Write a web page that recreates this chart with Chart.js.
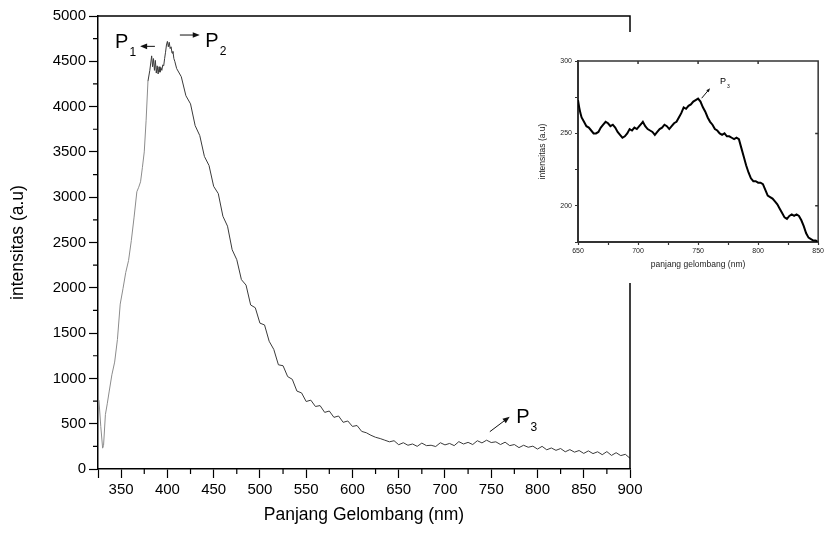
<!DOCTYPE html>
<html>
<head>
<meta charset="utf-8">
<script src="https://cdn.jsdelivr.net/npm/chart.js@4.4.1/dist/chart.umd.min.js"></script>
<style>
  body { margin: 0; background: #fff; }
  #wrap { position: relative; width: 826px; height: 537px; }
  #mainChart { position: absolute; left: 0; top: 0; }
  #insetChart { position: absolute; left: 535px; top: 32px; background: #fff; }
</style>
</head>
<body>
<div id="wrap">
  <canvas id="mainChart" width="826" height="537"></canvas>
  <canvas id="insetChart" width="291" height="251"></canvas>
</div>
<script>
// spektrum utama (nm, a.u)
const wavelength = [
  326, 328, 330, 331, 333, 335, 337, 340, 343, 346, 349, 352, 355, 358, 361, 364, 367, 369, 371, 373,
  375, 377, 379, 381, 383, 384, 385, 386, 387, 388, 389, 390, 391, 392, 393, 394, 395, 396, 397, 398,
  399, 400, 401, 402, 403, 404, 405, 406, 407, 408,
  410, 415, 420, 425, 430, 435, 440, 445, 450, 455, 460, 465, 470, 475, 480, 485, 490, 495, 500, 505,
  510, 515, 520, 525, 530, 535, 540, 545, 550, 555, 560, 565, 570, 575, 580, 585, 590, 595, 600, 605,
  610, 615, 620, 625, 630, 635, 640, 645, 650, 655, 660, 665, 670, 675, 680, 685, 690, 695, 700, 705,
  710, 715, 720, 725, 730, 735, 740, 745, 750, 755, 760, 765, 770, 775, 780, 785, 790, 795, 800, 805,
  810, 815, 820, 825, 830, 835, 840, 845, 850, 855, 860, 865, 870, 875, 880, 885, 890, 895, 900
];
const intensity = [
  760, 470, 230, 260, 600, 720, 850, 1040, 1180, 1430, 1820, 1990, 2170, 2300, 2520, 2780, 3060, 3110, 3170, 3330,
  3500, 3850, 4280, 4400, 4560, 4440, 4530, 4400, 4510, 4370, 4450, 4360, 4440, 4380, 4430, 4400, 4460, 4450, 4530, 4600,
  4680, 4720, 4660, 4710, 4640, 4660, 4590, 4610, 4530, 4500,
  4420, 4330, 4120, 4030, 3790, 3680, 3450, 3350, 3120, 3040, 2790, 2680, 2420, 2310, 2090, 2030, 1810, 1780, 1610, 1590,
  1410, 1320, 1150, 1140, 1020, 990, 860, 840, 745, 760, 690, 700, 625, 640, 570, 585, 515, 530, 470, 480,
  415, 400, 372, 350, 336, 318, 300, 312, 268, 290, 262, 276, 250, 286, 258, 262, 248, 290, 266, 282,
  258, 302, 276, 294, 270, 312, 288, 318, 292, 300, 270, 296, 258, 270, 236, 262, 240, 252, 220, 250,
  212, 232, 206, 226, 190, 214, 186, 204, 172, 200, 170, 190, 158, 192, 150, 180, 148, 162, 118
];

// inset 650-850 nm
const insetWavelength = [
  650, 651, 652, 653, 655, 657, 659, 661, 663, 665, 667, 669, 671, 673, 675, 677, 679, 681, 683, 685,
  687, 689, 691, 693, 695, 697, 699, 701, 703, 704, 706, 708, 710, 712, 714, 716, 718, 720, 722, 724,
  726, 728, 730, 732, 734, 736, 738, 740, 742, 744, 746, 748, 750, 752, 754, 756, 758, 760, 762, 764,
  766, 768, 770, 772, 774, 776, 778, 780, 782, 784, 786, 788, 790, 792, 794, 796, 798, 800, 802, 804,
  806, 808, 810, 812, 814, 816, 818, 820, 822, 824, 826, 828, 830, 832, 834, 836, 838, 840, 842, 844,
  846, 848, 850
];
const insetIntensity = [
  273, 268, 264, 261, 258, 255, 254, 252, 250, 250, 251, 254, 256, 258, 257, 255, 256, 254, 251, 249,
  247, 248, 250, 253, 252, 254, 253, 255, 257, 258, 255, 253, 252, 251, 249, 251, 253, 254, 256, 255,
  253, 255, 257, 258, 261, 264, 268, 267, 269, 270, 272, 273, 274, 272, 268, 265, 261, 258, 256, 253,
  252, 250, 249, 250, 248, 248, 247, 246, 247, 246, 240, 234, 228, 223, 219, 217, 217, 216, 216, 215,
  211, 207, 206, 205, 203, 201, 198, 195, 192, 191, 193, 194, 193, 194, 193, 190, 186, 181, 178, 177,
  176, 176, 175
];

const xTicksMain = [350, 400, 450, 500, 550, 600, 650, 700, 750, 800, 850, 900];
const xTicksInset = [650, 700, 750, 800, 850];
const yTicksInset = [200, 250, 300];

// label puncak: teks di (nm, nilai), panah dari -> ke
const peakMarks = [
  { sub: "1", tx: 343.5, ty: 4650, ax0: 386.5, ay0: 4665, ax1: 370.5, ay1: 4665 },
  { sub: "2", tx: 441, ty: 4660, ax0: 413.5, ay0: 4790, ax1: 435, ay1: 4790 },
  { sub: "3", tx: 777, ty: 510, ax0: 748.5, ay0: 412, ax1: 770, ay1: 577 }
];
const insetMark = { sub: "3", tx: 768.3, ty: 284, ax0: 753, ax1: 760, ay0: 274.3, ay1: 281.2 };

Chart.defaults.font.family = '"Liberation Sans", Arial, sans-serif';
Chart.defaults.color = "#000";

function drawArrow(ctx, x0, y0, x1, y1, head, color) {
    const ang = Math.atan2(y1 - y0, x1 - x0);
    ctx.strokeStyle = color;
    ctx.fillStyle = color;
    ctx.lineWidth = 1;
    ctx.beginPath();
    ctx.moveTo(x0, y0);
    ctx.lineTo(x1 - Math.cos(ang) * head * 0.6, y1 - Math.sin(ang) * head * 0.6);
    ctx.stroke();
    ctx.beginPath();
    ctx.moveTo(x1, y1);
    ctx.lineTo(x1 - Math.cos(ang) * head + Math.sin(ang) * head * 0.4, y1 - Math.sin(ang) * head - Math.cos(ang) * head * 0.4);
    ctx.lineTo(x1 - Math.cos(ang) * head - Math.sin(ang) * head * 0.4, y1 - Math.sin(ang) * head + Math.cos(ang) * head * 0.4);
    ctx.closePath();
    ctx.fill();
}

function drawPeak(ctx, m, xs, ys, size, head) {
    const tx = xs.getPixelForValue(m.tx);
    const ty = ys.getPixelForValue(m.ty);
    ctx.fillStyle = "#000";
    ctx.textBaseline = "alphabetic";
    ctx.textAlign = "left";
    ctx.font = size + 'px "Liberation Sans", Arial, sans-serif';
    ctx.fillText("P", tx, ty);
    const w = ctx.measureText("P").width;
    ctx.font = Math.round(size * 0.6) + 'px "Liberation Sans", Arial, sans-serif';
    ctx.fillText(m.sub, tx + w + 1, ty + size * 0.42);
    drawArrow(ctx, xs.getPixelForValue(m.ax0), ys.getPixelForValue(m.ay0),
        xs.getPixelForValue(m.ax1), ys.getPixelForValue(m.ay1), head, "#111");
}

const mainExtras = {
    id: "mainExtras",
    afterDraw(chart) {
        const { ctx, chartArea: a, scales: { x, y } } = chart;
        ctx.save();
        ctx.strokeStyle = "#000";
        ctx.lineWidth = 1.5;
        ctx.beginPath();
        ctx.moveTo(a.left, a.top);
        ctx.lineTo(a.right, a.top);
        ctx.lineTo(a.right, a.bottom);
        ctx.stroke();
        // tick kecil
        ctx.lineWidth = 1.2;
        ctx.beginPath();
        for (let v = 375; v < 900; v += 50) {
            const px = x.getPixelForValue(v);
            ctx.moveTo(px, a.bottom);
            ctx.lineTo(px, a.bottom + 5);
        }
        for (let v = 250; v < 5000; v += 500) {
            const py = y.getPixelForValue(v);
            ctx.moveTo(a.left, py);
            ctx.lineTo(a.left - 5, py);
        }
        ctx.stroke();
        peakMarks.forEach(m => drawPeak(ctx, m, x, y, 20, 7));
        ctx.restore();
    }
};

const insetExtras = {
    id: "insetExtras",
    afterDraw(chart) {
        const { ctx, chartArea: a, scales: { x, y } } = chart;
        ctx.save();
        ctx.strokeStyle = "#333";
        ctx.lineWidth = 1.5;
        ctx.beginPath();
        ctx.moveTo(a.left, a.top);
        ctx.lineTo(a.right, a.top);
        ctx.lineTo(a.right, a.bottom);
        ctx.stroke();
        ctx.beginPath();
        [700, 750, 800].forEach(v => {
            const px = x.getPixelForValue(v);
            ctx.moveTo(px, a.top);
            ctx.lineTo(px, a.top + 3);
        });
        [200, 250].forEach(v => {
            const py = y.getPixelForValue(v);
            ctx.moveTo(a.right, py);
            ctx.lineTo(a.right - 3, py);
        });
        ctx.stroke();
        drawPeak(ctx, insetMark, x, y, 9, 4);
        ctx.restore();
    }
};

new Chart(document.getElementById("mainChart").getContext("2d"), {
    type: "line",
    data: {
        datasets: [{
            data: wavelength.map((w, i) => ({ x: w, y: intensity[i] })),
            borderColor: "#333",
            borderWidth: 1,
            pointRadius: 0,
            tension: 0,
            segment: {
                borderColor: c => (c.p0.parsed.x < 378 ? "#8c8c8c" : "#3a3a3a"),
            },
        }],
    },
    options: {
        responsive: false,
        animation: false,
        plugins: { legend: { display: false }, tooltip: { enabled: false } },
        layout: { padding: { left: 0, top: 16, right: 196, bottom: 0 } },
        scales: {
            x: {
                type: "linear",
                min: 325,
                max: 900,
                afterBuildTicks: s => { s.ticks = [325].concat(xTicksMain).map(v => ({ value: v })); },
                ticks: {
                    autoSkip: false,
                    maxRotation: 0,
                    padding: 3,
                    font: { size: 15 },
                    color: "#000",
                    callback: v => (xTicksMain.includes(v) ? String(v) : ""),
                },
                grid: { drawOnChartArea: false, tickLength: 9, color: "#000", tickWidth: 1.2 },
                border: { color: "#000", width: 1.5 },
                title: {
                    display: true,
                    text: "Panjang Gelombang (nm)",
                    font: { size: 17.5 },
                    color: "#000",
                    padding: { top: 0, bottom: 11.5 },
                },
                afterFit: s => { s.height = 68; },
            },
            y: {
                min: 0,
                max: 5000,
                ticks: { stepSize: 500, padding: 3, font: { size: 15 }, color: "#000", callback: v => String(v) },
                grid: { drawOnChartArea: false, tickLength: 9, color: "#000", tickWidth: 1.2 },
                border: { color: "#000", width: 1.5 },
                title: {
                    display: true,
                    text: "intensitas (a.u)",
                    font: { size: 17.5 },
                    color: "#000",
                    padding: { top: 7.5, bottom: 0 },
                },
                afterFit: s => { s.width = 98; },
            },
        },
    },
    plugins: [mainExtras],
});

new Chart(document.getElementById("insetChart").getContext("2d"), {
    type: "line",
    data: {
        datasets: [{
            data: insetWavelength.map((w, i) => ({ x: w, y: insetIntensity[i] })),
            borderColor: "#000",
            borderWidth: 2,
            pointRadius: 0,
            tension: 0,
        }],
    },
    options: {
        responsive: false,
        animation: false,
        plugins: { legend: { display: false }, tooltip: { enabled: false } },
        layout: { padding: { left: 0, top: 29, right: 5, bottom: 0 } },
        scales: {
            x: {
                type: "linear",
                min: 650,
                max: 850,
                ticks: {
                    stepSize: 25,
                    autoSkip: false,
                    maxRotation: 0,
                    padding: 2,
                    font: { size: 7 },
                    color: "#222",
                    callback: v => (xTicksInset.includes(v) ? String(v) : ""),
                },
                grid: { drawOnChartArea: false, tickLength: 3, color: "#333", tickWidth: 1.2 },
                border: { color: "#333", width: 2 },
                title: {
                    display: true,
                    text: "panjang gelombang (nm)",
                    font: { size: 8.5 },
                    color: "#222",
                    padding: { top: 0, bottom: 13 },
                },
                afterFit: s => { s.height = 41; },
            },
            y: {
                min: 175,
                max: 300,
                ticks: {
                    stepSize: 25,
                    autoSkip: false,
                    padding: 3,
                    font: { size: 7 },
                    color: "#222",
                    callback: v => (yTicksInset.includes(v) ? String(v) : ""),
                },
                grid: { drawOnChartArea: false, tickLength: 3, color: "#333", tickWidth: 1.2 },
                border: { color: "#333", width: 2 },
                title: {
                    display: true,
                    text: "intensitas (a.u)",
                    font: { size: 8.5 },
                    color: "#222",
                    padding: { top: 3, bottom: 0 },
                },
                afterFit: s => { s.width = 43; },
            },
        },
    },
    plugins: [insetExtras],
});
</script>
</body>
</html>
